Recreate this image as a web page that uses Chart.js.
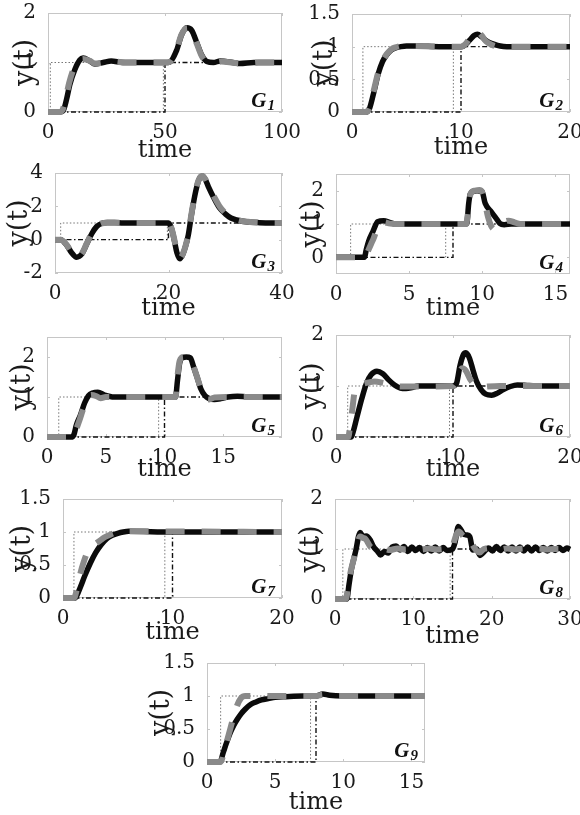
<!DOCTYPE html>
<html>
<head>
<meta charset="utf-8">
<script src="https://cdn.jsdelivr.net/npm/chart.js@4.4.1/dist/chart.umd.min.js"></script>
<style>
    html, body { margin: 0; padding: 0; background: #fff; }
    #fig { position: relative; width: 580px; height: 815px; overflow: hidden; }
    #fig canvas { position: absolute; }
</style>
</head>
<body>
<div id="fig"></div>
<script>
// ---- data: [time, y(t)] ----
const g1Black = [[0,0],[5,0],[6.4,0.02],[7.9,0.25],[9.3,0.55],[11.4,0.85],[13.6,1.05],[15,1.09],[17.9,1.03],[20,0.97],[23.6,1.0],[27,1.03],[32,1.0],[50,1.0],[52,1.01],[55,1.25],[57,1.55],[59.3,1.7],[61.4,1.65],[63.6,1.4],[65.7,1.15],[67.9,1.02],[70.7,1.0],[73.6,1.03],[79,1.0],[82,0.98],[88,1.0],[100,1.0]];
const g1Gray  = [[0,0],[5,0],[6.2,0.04],[7.6,0.28],[9,0.58],[11,0.88],[13,1.03],[15,1.07],[18,1.03],[20,0.98],[24,1.0],[28,1.02],[33,1.0],[50,1.0],[52,1.01],[55,1.27],[57,1.56],[59.5,1.69],[61.5,1.63],[63.6,1.38],[65.7,1.13],[68,1.01],[71,1.0],[74,1.02],[80,0.99],[84,0.98],[90,1.0],[100,1.0]];

const g2Black = [[0,0],[1.3,0],[1.6,0.05],[2.0,0.3],[2.4,0.58],[2.8,0.77],[3.2,0.88],[3.6,0.95],[4.0,0.98],[4.5,1.0],[5,1.01],[6,1.01],[8,1.0],[10,1.0],[10.4,1.03],[10.8,1.1],[11.2,1.17],[11.5,1.19],[11.9,1.15],[12.4,1.08],[13,1.04],[13.6,1.01],[14.2,1.0],[20,1.0]];
const g2Gray  = [[0,0],[1.3,0],[1.6,0.07],[2.0,0.33],[2.4,0.6],[2.8,0.78],[3.2,0.89],[3.6,0.96],[4.0,0.99],[4.6,1.01],[5.5,1.01],[8,1.0],[10,1.0],[10.4,1.04],[10.8,1.13],[11.2,1.21],[11.5,1.23],[11.9,1.17],[12.3,1.08],[12.8,1.03],[13.5,1.0],[20,1.0]];

const g3Black = [[0,0],[1,0],[2.1,-0.35],[2.9,-0.77],[3.8,-1.05],[4.7,-0.87],[5.6,-0.25],[6.5,0.37],[7.35,0.79],[8.2,0.97],[9.2,1.03],[10.5,1.03],[12,1.0],[20,1.0],[20.5,0.7],[21,0.0],[21.5,-0.8],[22,-1.15],[22.5,-0.9],[23,-0.4],[23.5,0.3],[24,1.4],[24.5,2.4],[25,3.2],[25.5,3.7],[26,3.8],[26.5,3.6],[27,3.2],[28,2.5],[29,1.9],[30,1.55],[31,1.3],[32,1.18],[34,1.06],[36,1.02],[40,1.0]];
const g3Gray  = [[0,0],[1,0],[2.1,-0.33],[2.9,-0.75],[3.8,-1.03],[4.7,-0.85],[5.6,-0.22],[6.5,0.4],[7.35,0.8],[8.2,0.98],[9.2,1.02],[10.5,1.02],[12,1.0],[20,1.0],[20.5,0.72],[21,0.05],[21.5,-0.75],[22,-1.12],[22.5,-0.88],[23,-0.38],[23.5,0.35],[24,1.45],[24.5,2.45],[25,3.25],[25.5,3.72],[26,3.82],[26.5,3.62],[27,3.25],[28,2.6],[29,2.0],[30,1.6],[31,1.35],[32,1.2],[34,1.07],[36,1.02],[40,1.0]];

const g4Black = [[0,0],[1.94,0],[2.07,0.23],[2.23,0.48],[2.53,0.78],[2.85,1.07],[3.26,1.1],[3.71,1.04],[4.05,1.0],[5,1.0],[8.9,1.0],[8.95,1.02],[9.07,1.6],[9.18,1.9],[9.4,1.98],[9.64,2.0],[9.98,1.98],[10.2,1.62],[10.55,1.4],[10.9,1.2],[11.2,1.02],[11.5,0.98],[12,1.0],[16,1.0]];
const g4Gray  = [[0,0],[2.0,0],[2.2,0.2],[2.4,0.4],[2.6,0.6],[2.8,0.85],[3.0,1.0],[3.3,1.05],[3.6,1.02],[4,1.0],[8,1.0],[8.9,1.0],[9.0,1.25],[9.2,1.9],[9.5,2.0],[9.8,2.02],[10.0,1.95],[10.2,1.6],[10.4,1.2],[10.6,0.95],[10.8,0.85],[11.0,0.97],[11.4,1.05],[11.8,1.1],[12.2,1.05],[12.6,1.0],[16,1.0]];

const g5Black = [[0,0],[2.05,0],[2.28,0.05],[2.5,0.3],[2.85,0.55],[3.2,0.85],[3.53,1.03],[3.88,1.1],[4.33,1.12],[4.9,1.05],[5.7,1.0],[6.84,1.0],[10.94,1.0],[11.1,1.4],[11.29,1.85],[11.5,1.98],[11.86,2.0],[12.2,1.98],[12.48,1.75],[12.77,1.5],[13.1,1.2],[13.45,1.03],[13.8,0.96],[14.25,0.94],[14.8,0.96],[15.4,1.0],[16.2,1.02],[17.1,1.0],[20,1.0]];
const g5Gray  = [[0,0],[2.17,0],[2.39,0.12],[2.74,0.4],[3.08,0.7],[3.42,0.95],[3.76,1.05],[4.22,1.02],[4.56,0.97],[5.0,1.0],[5.7,1.0],[10.94,1.0],[11.1,1.5],[11.29,1.9],[11.63,2.0],[12.08,1.98],[12.43,1.8],[12.77,1.5],[13.1,1.2],[13.45,0.98],[13.8,0.94],[14.25,0.99],[16,1.0],[20,1.0]];

const g6Black = [[0,0],[1.3,0],[1.4,0.05],[1.8,0.4],[2.2,0.75],[2.6,1.05],[3.0,1.22],[3.5,1.29],[4.0,1.24],[4.5,1.12],[5.0,1.02],[5.5,0.96],[6.0,0.95],[6.5,0.97],[7,1.0],[8,1.0],[10,1.0],[10.3,1.05],[10.6,1.4],[10.9,1.62],[11.1,1.65],[11.4,1.55],[11.7,1.32],[12.0,1.1],[12.4,0.93],[12.8,0.84],[13.3,0.82],[13.8,0.86],[14.3,0.93],[14.9,0.99],[15.5,1.02],[16.5,1.01],[18,1.0],[20,1.0]];
const g6Gray  = [[0,0],[1.05,0],[1.2,0.2],[1.4,0.55],[1.6,0.9],[1.9,1.0],[2.3,1.04],[2.8,1.07],[3.3,1.09],[4,1.06],[5,1.0],[6,0.99],[10,1.0],[10.2,1.05],[10.5,1.25],[10.8,1.35],[11.1,1.3],[11.5,1.12],[12,1.0],[12.5,0.98],[13,0.99],[14,1.0],[16,1.0],[20,1.0]];

const g7Black = [[0,0],[1.1,0],[1.3,0.05],[1.6,0.17],[2.0,0.34],[2.5,0.53],[3.0,0.69],[3.5,0.81],[4.0,0.9],[4.5,0.95],[5.0,0.98],[5.5,1.0],[6,1.01],[10,1.0],[20,1.0]];
const g7Gray  = [[0,0],[1.0,0],[1.3,0.15],[1.6,0.38],[1.9,0.55],[2.3,0.72],[2.8,0.8],[3.3,0.86],[3.8,0.92],[4.3,0.96],[4.8,0.99],[5.3,1.0],[6,1.01],[20,1.0]];

const g8Black = [[0,0],[1.5,0],[1.8,0.3],[2.1,0.6],[2.4,0.8],[2.7,1.0],[3.0,1.25],[3.2,1.33],[3.6,1.25],[4.0,1.26],[4.5,1.18],[4.9,1.05],[5.4,0.96],[5.8,0.88],[6.3,0.95],[6.8,0.92],[7.3,1.04],[7.8,1.06],[8.3,0.98],[8.8,1.05],[9.3,0.95],[9.8,1.04],[10.3,0.97],[10.8,1.03],[11.3,0.95],[11.8,1.03],[12.3,0.96],[12.8,1.04],[13.3,0.96],[13.8,1.03],[14.3,0.97],[15.0,1.0],[15.3,1.12],[15.75,1.45],[16.1,1.38],[16.4,1.3],[16.8,1.28],[17.2,1.25],[17.6,0.98],[18.1,1.0],[18.5,0.87],[18.9,0.92],[19.6,1.02],[20.1,0.96],[20.6,1.05],[21.1,0.97],[21.6,1.04],[22.1,0.96],[22.6,1.04],[23.1,0.96],[23.6,1.04],[24.1,0.96],[24.6,1.04],[25.1,0.96],[25.6,1.04],[26.1,0.97],[26.6,1.03],[27.1,0.96],[27.6,1.03],[28.1,0.97],[28.6,1.03],[29.1,0.97],[29.6,1.02],[30,0.99]];
const g8Gray  = [[0,0],[1.4,0],[1.7,0.3],[2.0,0.55],[2.4,0.8],[2.8,1.05],[3.2,1.25],[3.6,1.22],[3.9,1.2],[4.5,1.05],[5,1.0],[5.6,0.98],[6.3,1.0],[7,0.98],[8,1.01],[9,0.99],[10,1.01],[11,0.99],[12,1.01],[13,0.99],[14,1.0],[15,1.0],[15.2,1.15],[15.8,1.35],[16.5,1.25],[17.0,1.28],[17.5,1.1],[18.0,0.98],[18.5,0.93],[19,1.0],[20,1.02],[21,0.99],[22,1.01],[23,0.99],[24,1.01],[25,0.99],[26,1.01],[27,0.99],[28,1.0],[30,1.0]];

const g9Black = [[0,0],[0.95,0],[1.2,0.15],[1.45,0.3],[1.7,0.44],[1.95,0.55],[2.2,0.64],[2.5,0.73],[2.8,0.8],[3.2,0.87],[3.6,0.91],[4.0,0.94],[4.5,0.96],[5.0,0.98],[5.8,0.99],[7,1.0],[8,1.0],[8.5,1.03],[9,1.01],[10,1.0],[16,1.0]];
const g9Gray  = [[0,0],[1.0,0],[1.3,0.2],[1.6,0.42],[1.9,0.65],[2.2,0.85],[2.5,0.97],[2.8,1.0],[3.5,1.0],[8,1.0],[8.5,1.02],[9,1.0],[16,1.0]];

// step signals: dotted pulse (on / off), dash-dot disturbance step
const pulseOn   = [1, 1, 1, 1, 1, 1, 1, 1, 1];
const pulseOff  = [49.3, 9.3, 19.8, 7.5, 9.5, 9.7, 9.3, 14.7, 7.6];
const distStep  = [50, 10, 20, 8, 10, 10, 10, 15, 8];

// axis ranges and ticks
const xMax   = [100, 20, 40, 16, 20, 20, 20, 30, 16];
const yMin   = [0, 0, -2, -0.5, 0, 0, 0, 0, 0];
const yMax   = [2, 1.5, 4, 2.5, 2.5, 2, 1.5, 2, 1.5];
const xTicks = [[0,50,100],[0,10,20],[0,20,40],[0,5,10,15],[0,5,10,15],[0,10,20],[0,10,20],[0,10,20,30],[0,5,10,15]];
const yTicks = [[0,1,2],[0,0.5,1,1.5],[-2,0,2,4],[0,1,2],[0,1,2],[0,1,2],[0,0.5,1,1.5],[0,1,2],[0,0.5,1,1.5]];
const names  = ['1','2','3','4','5','6','7','8','9'];

const blackRuns = [g1Black, g2Black, g3Black, g4Black, g5Black, g6Black, g7Black, g8Black, g9Black];
const grayRuns  = [g1Gray, g2Gray, g3Gray, g4Gray, g5Gray, g6Gray, g7Gray, g8Gray, g9Gray];

// ---- layout: plot boxes [left, top, right, bottom], y-label / x-label offsets ----
const boxes = [
    { box: [48, 13, 282, 112],  yl: 22, xl: 39 },
    { box: [352, 14, 570, 112], yl: 27, xl: 36 },
    { box: [55, 173, 282, 273], yl: 35, xl: 36 },
    { box: [336, 174, 570, 274], yl: 23, xl: 35 },
    { box: [47, 337, 282, 437], yl: 24, xl: 33 },
    { box: [336, 335, 570, 437], yl: 23, xl: 33 },
    { box: [63, 499, 282, 598], yl: 40, xl: 35 },
    { box: [335, 499, 570, 599], yl: 23, xl: 38 },
    { box: [207, 663, 425, 762], yl: 45, xl: 41 }
];

const YW = 62, PT = 20, PR = 30, XH = 58;
const SERIF = '"DejaVu Serif", "Liberation Serif", serif';
const TXT = '#1a1a1a';
const tickFont = { family: SERIF, size: 20 };
const xTitleFont = { family: SERIF, size: 24 };
const yTitleFont = { family: SERIF, size: 27 };

const panelDecor = {
    id: 'panelDecor',
    beforeDatasetsDraw(chart) {
        const { ctx, chartArea: a, scales } = chart;
        ctx.save();
        ctx.strokeStyle = '#c6c6c6';
        ctx.lineWidth = 1;
        ctx.strokeRect(Math.round(a.left) + 0.5, Math.round(a.top) + 0.5, Math.round(a.width) - 1, Math.round(a.height) - 1);
        ctx.beginPath();
        scales.x.ticks.forEach(t => {
            const px = Math.round(scales.x.getPixelForValue(t.value)) + 0.5;
            ctx.moveTo(px, a.bottom); ctx.lineTo(px, a.bottom - 3);
            ctx.moveTo(px, a.top); ctx.lineTo(px, a.top + 3);
        });
        scales.y.ticks.forEach(t => {
            const py = Math.round(scales.y.getPixelForValue(t.value)) + 0.5;
            ctx.moveTo(a.left, py); ctx.lineTo(a.left + 3, py);
            ctx.moveTo(a.right, py); ctx.lineTo(a.right - 3, py);
        });
        ctx.stroke();
        ctx.restore();
    },
    afterDatasetsDraw(chart, args, opts) {
        const { ctx, chartArea: a } = chart;
        ctx.save();
        ctx.fillStyle = '#111';
        ctx.textBaseline = 'alphabetic';
        ctx.textAlign = 'right';
        ctx.font = 'bold italic 15px "Liberation Serif"';
        const sw = ctx.measureText(opts.sub).width;
        ctx.fillText(opts.sub, a.right - 7, a.bottom - 2);
        ctx.font = 'bold italic 21px "Liberation Serif"';
        ctx.fillText('G', a.right - 8 - sw, a.bottom - 5);
        ctx.restore();
    }
};

function curve(pts, color, width, dash) {
    return {
        data: pts.map(([x, y]) => ({ x, y })),
        borderColor: color, borderWidth: width, borderDash: dash,
        cubicInterpolationMode: 'monotone', pointRadius: 0, fill: false, clip: false,
        borderJoinStyle: 'round'
    };
}

function stepLine(pts, color, width, dash) {
    return {
        data: pts.map(([x, y]) => ({ x, y })),
        borderColor: color, borderWidth: width, borderDash: dash,
        tension: 0, pointRadius: 0, fill: false, clip: false
    };
}

const fig = document.getElementById('fig');

boxes.forEach((p, i) => {
    const [L, T, R, B] = p.box;
    const w = R - L + YW + PR, h = B - T + PT + XH;
    const cv = document.createElement('canvas');
    cv.width = w; cv.height = h;
    cv.style.left = (L - YW) + 'px';
    cv.style.top = (T - PT) + 'px';
    cv.style.width = w + 'px';
    cv.style.height = h + 'px';
    fig.appendChild(cv);

    const pulse = [[0, 0], [pulseOn[i], 0], [pulseOn[i], 1], [pulseOff[i], 1], [pulseOff[i], 0]];
    const dist = [[0, 0], [distStep[i], 0], [distStep[i], 1], [xMax[i], 1]];
    const xt = xTicks[i], yt = yTicks[i];

    new Chart(cv, {
        type: 'line',
        data: {
            datasets: [
                curve(grayRuns[i], '#8a8a8a', 6, [19, 17]),
                curve(blackRuns[i], '#0b0b0b', 5.5, []),
                stepLine(dist, '#111', 1.4, [5, 2.5, 1.5, 2.5]),
                stepLine(pulse, '#777', 1, [1.5, 2])
            ]
        },
        options: {
            responsive: false,
            animation: false,
            devicePixelRatio: 1,
            layout: { padding: { top: PT, right: PR, left: 0, bottom: 0 } },
            plugins: {
                legend: { display: false },
                tooltip: { enabled: false },
                panelDecor: { sub: names[i] }
            },
            scales: {
                x: {
                    type: 'linear', min: 0, max: xMax[i],
                    afterBuildTicks: s => { s.ticks = xt.map(v => ({ value: v })); },
                    afterFit: s => { s.height = XH; },
                    grid: { display: false }, border: { display: false },
                    ticks: { font: tickFont, color: TXT, padding: 1, autoSkip: false, maxRotation: 0, callback: v => String(v) },
                    title: { display: true, text: 'time', font: xTitleFont, color: TXT,
                             padding: { top: 0, bottom: XH - p.xl - xTitleFont.size * 0.6 } }
                },
                y: {
                    type: 'linear', min: yMin[i], max: yMax[i],
                    afterBuildTicks: s => { s.ticks = yt.map(v => ({ value: v })); },
                    afterFit: s => { s.width = YW; },
                    grid: { display: false }, border: { display: false },
                    ticks: { font: tickFont, color: TXT, padding: 4, autoSkip: false, callback: v => String(v) },
                    title: { display: true, text: 'y(t)', font: yTitleFont, color: TXT,
                             padding: { top: YW - p.yl - yTitleFont.size * 0.6, bottom: 0 } }
                }
            }
        },
        plugins: [panelDecor]
    });
});
</script>
</body>
</html>
